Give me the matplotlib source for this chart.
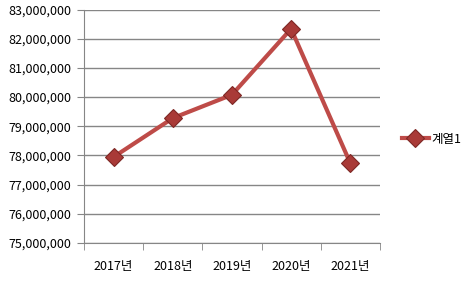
import matplotlib
matplotlib.use('Agg')
import matplotlib.pyplot as plt
from matplotlib.ticker import FuncFormatter, FixedLocator

plt.rcParams['font.family'] = ['Noto Sans CJK KR', 'DejaVu Sans']

# datos
years = ['2017년', '2018년', '2019년', '2020년', '2021년']
values = [77950000, 79280000, 80080000, 82340000, 77740000]
series_name = '계열1'

fig = plt.figure(figsize=(4.76, 2.81), dpi=100)
ax = fig.add_axes([0.1765, 0.135, 0.6215, 0.831])

gray = '#868686'
x = list(range(len(years)))
ax.plot(x, values, color='#BE4B48', linewidth=3, marker='D', markersize=9,
        markerfacecolor='#A93A37', markeredgecolor='#7E2724', markeredgewidth=0.8,
        label=series_name, zorder=3)

ax.set_xlim(-0.5, len(years) - 0.5)
ax.set_ylim(75000000, 83000000)
ax.set_yticks(range(75000000, 83000001, 1000000))
ax.yaxis.set_major_formatter(FuncFormatter(lambda v, p: f'{int(v):,}'))
ax.grid(True, axis='y', color=gray, linewidth=1)

ax.set_xticks(x)
ax.set_xticklabels(years)
ax.xaxis.set_minor_locator(FixedLocator([i - 0.5 for i in range(len(years) + 1)]))
ax.tick_params(axis='x', which='major', length=0, pad=12, labelsize=9)
ax.tick_params(axis='x', which='minor', length=5, color=gray, direction='out')
ax.tick_params(axis='y', length=5, color=gray, labelsize=9, pad=4)

for s in ['top', 'right']:
    ax.spines[s].set_visible(False)
ax.spines['left'].set_color(gray)
ax.spines['bottom'].set_color(gray)

fig.legend(loc='center left', bbox_to_anchor=(0.82, 0.505), frameon=False,
           fontsize=9, handlelength=2.2, handletextpad=0.2)

plt.savefig('out.png', dpi=100)
plt.close()
